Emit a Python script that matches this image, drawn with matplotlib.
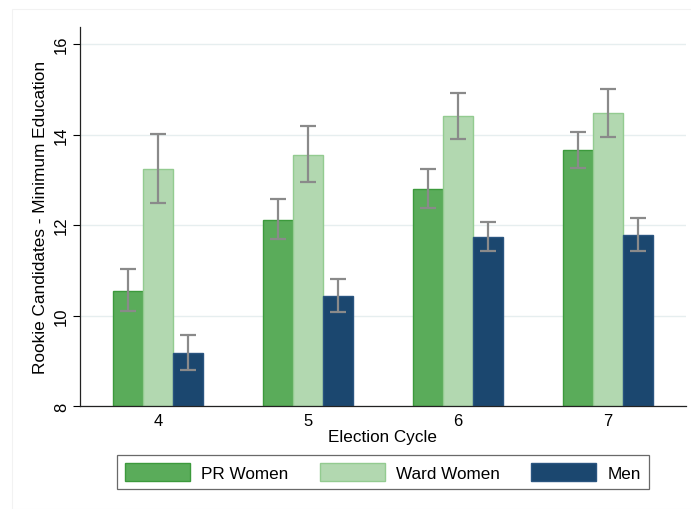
import numpy as np
import matplotlib.pyplot as plt
from matplotlib.patches import Rectangle

plt.rcParams['font.family'] = ['Liberation Sans', 'DejaVu Sans']

cycles = [4, 5, 6, 7]
series = ['PR Women', 'Ward Women', 'Men']

pr_mean = [10.55, 12.12, 12.80, 13.65]
pr_lo = [10.10, 11.70, 12.37, 13.26]
pr_hi = [11.02, 12.57, 13.25, 14.06]

ward_mean = [13.25, 13.56, 14.41, 14.47]
ward_lo = [12.49, 12.95, 13.90, 13.94]
ward_hi = [14.02, 14.19, 14.92, 15.02]

men_mean = [9.17, 10.43, 11.73, 11.78]
men_lo = [8.80, 10.08, 11.42, 11.42]
men_hi = [9.56, 10.81, 12.06, 12.15]

face = ['#5aac5a', '#b2d8b0', '#1b476f']
edge = ['#3c9a3c', '#93cb90', '#2a5580']

fig = plt.figure(figsize=(6.91, 5.10), dpi=100)
fig.patches.append(Rectangle((12 / 691, 0), 1, 1 - 10 / 510, transform=fig.transFigure,
                             fill=False, edgecolor='#f2f2f2', linewidth=0.8))
ax = fig.add_axes([80 / 691, 1 - 407 / 510, 606 / 691, 379 / 510])

x = np.array(cycles, dtype=float)
w = 0.2
means = [pr_mean, ward_mean, men_mean]
los = [pr_lo, ward_lo, men_lo]
his = [pr_hi, ward_hi, men_hi]

for k in range(3):
    pos = x + (k - 1) * w
    m = np.array(means[k])
    ax.bar(pos, m - 8, bottom=8, width=w, color=face[k], edgecolor=edge[k],
           linewidth=1.0, label=series[k], zorder=2)
    err = [m - np.array(los[k]), np.array(his[k]) - m]
    ax.errorbar(pos, m, yerr=err, fmt='none', ecolor='#8a8a8a', elinewidth=1.6,
                capsize=6, capthick=1.6, zorder=3)

ax.set_xlim(3.48, 7.52)
ax.set_ylim(8, 16.38)
ax.set_xticks(cycles)
ax.set_yticks([8, 10, 12, 14, 16])
ax.yaxis.grid(True, color='#e6eeef', linewidth=1.0, zorder=0)
ax.set_axisbelow(True)
ax.tick_params(axis='x', length=0, labelsize=12, pad=5)
ax.tick_params(axis='y', length=5, width=0.8, labelsize=12, labelrotation=90, pad=3)
for t in ax.get_yticklabels():
    t.set_va('center')
for s in ['top', 'right']:
    ax.spines[s].set_visible(False)
for s in ['left', 'bottom']:
    ax.spines[s].set_linewidth(0.9)
    ax.spines[s].set_color('#222222')

ax.set_xlabel('Election Cycle', fontsize=12.3, labelpad=1)
ax.set_ylabel('Rookie Candidates - Minimum Education', fontsize=12.4, labelpad=4)

leg = fig.legend(loc='center', bbox_to_anchor=(383 / 691, 1 - 473 / 510), ncol=3,
                 fontsize=12.3, frameon=True, fancybox=False, edgecolor='#444444',
                 handlelength=3.8, handleheight=1.3, columnspacing=1.85,
                 handletextpad=0.65, borderpad=0.45, borderaxespad=0)
leg.get_frame().set_linewidth(0.9)

fig.savefig('out.png', dpi=100, facecolor='white')
